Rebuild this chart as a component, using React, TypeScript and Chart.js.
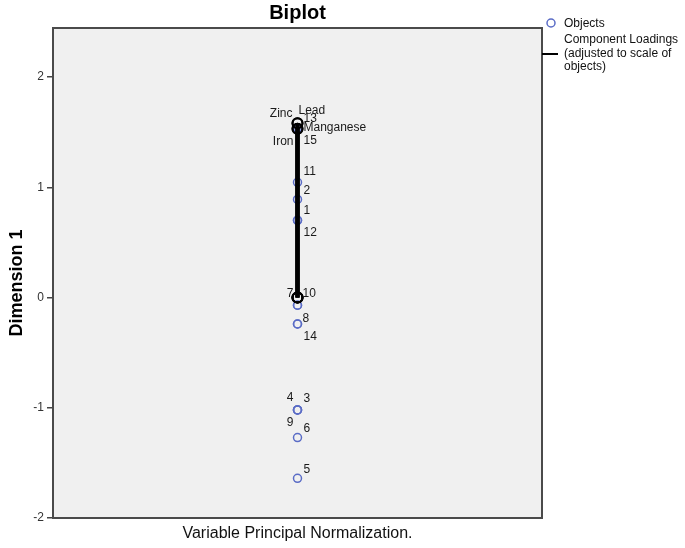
import React, { useEffect, useRef } from "react";
import { Chart, registerables } from "chart.js";

Chart.register(...registerables);

// ---- data ----
const objectIds = ["1", "2", "3", "4", "5", "6", "7", "8", "9", "10", "11", "12", "13", "14", "15"];
const objectDim1 = [0.7, 0.89, -1.02, -1.02, -1.64, -1.27, -0.07, -0.24, -1.02, -0.07, 1.045, 0.7, 1.53, -0.24, 1.53];
const objectDim2 = [0, 0, 0, 0, 0, 0, 0, 0, 0, 0, 0, 0, 0, 0, 0];

const variableNames = ["Zinc", "Lead", "Manganese", "Iron"];
const loadingDim1 = [1.58, 1.58, 1.53, 1.53];
const loadingDim2 = [0, 0, 0, 0];

const yTickValues = [-2, -1, 0, 1, 2];

// label placement (pixel offsets from the point, and text alignment)
const objectLabelOffsets: [number, number, CanvasTextAlign][] = [
  [6, -10, "left"], // 1
  [6, -9, "left"], // 2
  [6, -11, "left"], // 3
  [-4, -12, "right"], // 4
  [6, -9, "left"], // 5
  [6, -9, "left"], // 6
  [-4, -12, "right"], // 7
  [5, -5, "left"], // 8
  [-4, 13, "right"], // 9
  [5, -12, "left"], // 10
  [6, -11, "left"], // 11
  [6, 12, "left"], // 12
  [6, -10, "left"], // 13
  [6, 13, "left"], // 14
  [6, 12, "left"], // 15
];
const loadingLabelOffsets: [number, number, CanvasTextAlign][] = [
  [-5, -10, "right"], // Zinc
  [1, -13, "left"], // Lead
  [6, -1, "left"], // Manganese
  [-4, 13, "right"], // Iron
];

const FONT = '"Liberation Sans", Arial, sans-serif';
const BLUE = "#5a6cc6";

export default function App() {
  const ref = useRef<HTMLCanvasElement | null>(null);

  useEffect(() => {
    document.body.style.margin = "0";
    const canvas = ref.current!;

    const decor = {
      id: "decor",
      beforeDraw(chart: any) {
        const { ctx, chartArea: a } = chart;
        ctx.save();
        ctx.fillStyle = "#ffffff";
        ctx.fillRect(0, 0, chart.width, chart.height);
        ctx.fillStyle = "#f0f0f0";
        ctx.fillRect(a.left, a.top, a.right - a.left, a.bottom - a.top);
        ctx.restore();
      },
      afterDatasetsDraw(chart: any) {
        const { ctx } = chart;
        const xs = chart.scales.x;
        const ys = chart.scales.y;
        ctx.save();
        ctx.font = `12px ${FONT}`;
        ctx.fillStyle = "#1a1a1a";
        ctx.textBaseline = "middle";
        objectIds.forEach((id, i) => {
          const px = xs.getPixelForValue(objectDim2[i]);
          const py = ys.getPixelForValue(objectDim1[i]);
          const [dx, dy, al] = objectLabelOffsets[i];
          ctx.textAlign = al;
          ctx.fillText(id, px + dx, py + dy);
        });
        variableNames.forEach((name, i) => {
          const px = xs.getPixelForValue(loadingDim2[i]);
          const py = ys.getPixelForValue(loadingDim1[i]);
          const [dx, dy, al] = loadingLabelOffsets[i];
          ctx.textAlign = al;
          ctx.fillText(name, px + dx, py + dy);
        });
        ctx.restore();
      },
      afterDraw(chart: any) {
        const { ctx, chartArea: a } = chart;
        ctx.save();
        // plot border
        ctx.strokeStyle = "#4a4a4a";
        ctx.lineWidth = 2;
        ctx.strokeRect(a.left, a.top, a.right - a.left, a.bottom - a.top);
        const cx = (a.left + a.right) / 2;
        // title
        ctx.fillStyle = "#000";
        ctx.textAlign = "center";
        ctx.textBaseline = "alphabetic";
        ctx.font = `bold 20px ${FONT}`;
        ctx.fillText("Biplot", cx, 19);
        // x title
        ctx.font = `16px ${FONT}`;
        ctx.fillStyle = "#111";
        ctx.fillText("Variable Principal Normalization.", cx, 538);
        // y title
        ctx.save();
        ctx.translate(22, 283);
        ctx.rotate(-Math.PI / 2);
        ctx.font = `bold 18px ${FONT}`;
        ctx.fillStyle = "#000";
        ctx.textAlign = "center";
        ctx.textBaseline = "alphabetic";
        ctx.fillText("Dimension 1", 0, 0);
        ctx.restore();
        // legend
        ctx.strokeStyle = BLUE;
        ctx.lineWidth = 1.5;
        ctx.beginPath();
        ctx.arc(551, 23, 4, 0, Math.PI * 2);
        ctx.stroke();
        ctx.strokeStyle = "#000";
        ctx.lineWidth = 2;
        ctx.beginPath();
        ctx.moveTo(542, 54);
        ctx.lineTo(558, 54);
        ctx.stroke();
        ctx.font = `12px ${FONT}`;
        ctx.fillStyle = "#111";
        ctx.textAlign = "left";
        ctx.textBaseline = "middle";
        ctx.fillText("Objects", 564, 24);
        ctx.fillText("Component Loadings", 564, 40);
        ctx.fillText("(adjusted to scale of", 564, 54);
        ctx.fillText("objects)", 564, 67);
        ctx.restore();
      },
    };

    const loadingDatasets = variableNames.map((name, i) => ({
      label: name,
      data: [
        { x: 0, y: 0 },
        { x: loadingDim2[i], y: loadingDim1[i] },
      ],
      showLine: true,
      borderColor: "#000",
      borderWidth: 4,
      pointRadius: 5,
      pointBorderWidth: 2,
      pointBorderColor: "#000",
      pointBackgroundColor: "rgba(0,0,0,0)",
      order: 1,
    }));

    const chart = new Chart(canvas, {
      type: "scatter",
      data: {
        datasets: [
          {
            label: "Objects",
            data: objectDim1.map((y, i) => ({ x: objectDim2[i], y })),
            pointRadius: 4,
            pointBorderWidth: 1.5,
            pointBorderColor: BLUE,
            pointBackgroundColor: "rgba(0,0,0,0)",
            showLine: false,
            order: 2,
          },
          ...loadingDatasets,
        ],
      },
      options: {
        responsive: false,
        animation: false,
        events: [],
        layout: { padding: { left: 0, top: 28, right: 143, bottom: 30 } },
        plugins: {
          legend: { display: false },
          title: { display: false },
          tooltip: { enabled: false },
        },
        scales: {
          x: { type: "linear", min: -1, max: 1, display: false },
          y: {
            type: "linear",
            min: -2,
            max: 2.445,
            afterBuildTicks: (s: any) => {
              s.ticks = yTickValues.map((v) => ({ value: v }));
            },
            afterFit: (s: any) => {
              s.width = 53;
            },
            border: { display: false },
            grid: {
              drawOnChartArea: false,
              drawTicks: true,
              tickLength: 6,
              color: "#444",
              lineWidth: 1.5,
            },
            ticks: {
              padding: 3,
              color: "#333",
              font: { family: FONT, size: 12 },
            },
          },
        },
      },
      plugins: [decor],
    } as any);

    return () => chart.destroy();
  }, []);

  return (
    <div style={{ position: "fixed", left: 0, top: 0, width: 685, height: 548, background: "#fff" }}>
      <canvas ref={ref} width={685} height={548} />
    </div>
  );
}
